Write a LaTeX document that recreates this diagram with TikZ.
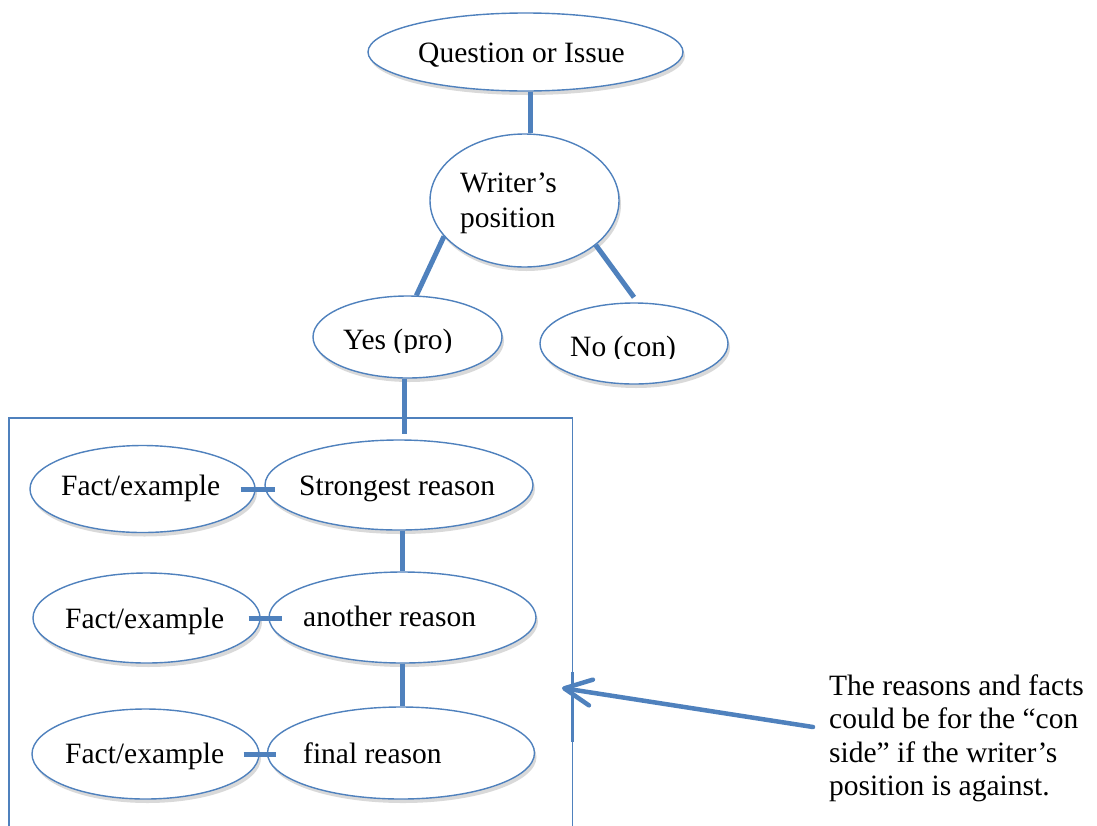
\documentclass[tikz,border=0pt]{standalone}
\usepackage{fontspec}
\setmainfont{Liberation Serif}
\usetikzlibrary{shapes.geometric,arrows.meta,shadows,calc}
\definecolor{accent}{RGB}{79,129,189}
\begin{document}
\begin{tikzpicture}[x=1pt,y=-1pt,
  oval/.style={ellipse, draw=accent, line width=1.4pt, fill=white, inner sep=0pt,
    drop shadow={shadow xshift=2pt, shadow yshift=-4pt, opacity=0.15, fill=black}},
  lbl/.style={inner sep=0pt, anchor=base west, font=\fontsize{29.5}{33}\selectfont},
  conn/.style={draw=accent, line width=5pt},
  frame/.style={draw=accent, line width=1.3pt},
  pointer/.style={draw=accent, line width=4.5pt, line cap=round,
    -{Straight Barb[length=27pt,width=26pt,round]}},
]
\clip (0,0) rectangle (1097,825);
\useasboundingbox (0,0) rectangle (1097,825);
\fill[white] (0,0) rectangle (1097,825);

% frame around the pro side
\draw[frame] (9,830) |- (572.5,418) -- (572.5,830);
\draw[accent, line width=3pt] (572.5,672) -- (572.5,742);

% ellipses
\node[oval, minimum width=315, minimum height=78] (q) at (525.5,52) {};
\node[oval, minimum width=189, minimum height=133] (w) at (524.5,200.5) {};
\node[oval, minimum width=189, minimum height=82] (y) at (407.5,337) {};
\node[oval, minimum width=188, minimum height=81] (n) at (634,343.5) {};
\node[oval, minimum width=268, minimum height=90] (s) at (399,485) {};
\node[oval, minimum width=225, minimum height=87] (f1) at (142.5,489) {};
\node[oval, minimum width=267, minimum height=91] (a) at (402.5,617.5) {};
\node[oval, minimum width=227, minimum height=90] (f2) at (146.5,618) {};
\node[oval, minimum width=267, minimum height=92] (r) at (401,753) {};
\node[oval, minimum width=227, minimum height=90] (f3) at (145.5,754) {};

% texts
\node[lbl] (tq) at (418,62) {Question or Issue};
\node[lbl] (tw1) at (460,192) {Writer’s};
\node[lbl] (tw2) at (460,227) {position};
\begin{scope}
  \clip (300,280) rectangle (520,352);
  \node[lbl] (ty) at (343,349) {Yes (pro)};
\end{scope}
\begin{scope}
  \clip (530,280) rectangle (740,358);
  \node[lbl] (tn) at (570,356) {No (con)};
\end{scope}
\node[lbl] (ts) at (299,495) {Strongest reason};
\node[lbl] (tf1) at (61,495) {Fact/example};
\node[lbl] (ta) at (303,626) {another reason};
\node[lbl] (tf2) at (65,628) {Fact/example};
\node[lbl] (tr) at (303,763) {final reason};
\node[lbl] (tf3) at (65,763) {Fact/example};

\node[lbl] (note1) at (829,695) {The reasons and facts};
\node[lbl] (note2) at (829,728) {could be for the “con};
\node[lbl] (note3) at (829,762) {side” if the writer’s};
\node[lbl] (note4) at (829,795) {position is against.};

% connectors
\draw[conn] ([xshift=5pt]q.south) -- ([xshift=6pt]w.north);
\draw[conn] (w.204) -- (y.78);
\draw[conn] (w.-32) -- ([yshift=5pt]n.north);
\draw[conn] ($(y.south)+(-3.5,0)$) -- ($(y.south |- s.north)+(-3.5,-5)$);
\draw[conn] (a.north |- s.south) -- (a.north);
\draw[conn] (a.south) -- (a.south |- r.north);
\draw[conn] ([xshift=-15pt]f1.east) -- ($(f1.east -| s.west)+(11,0)$);
\draw[conn] ([xshift=-12pt]f2.east) -- ($(f2.east -| a.west)+(14,0)$);
\draw[conn] ([xshift=-16pt]f3.east) -- ($(f3.east -| r.west)+(9,0)$);

% pointer arrow
\coordinate (tail) at (813,727);
\coordinate (tip) at (562,688);
\draw[pointer] (tail) -- (tip);
\end{tikzpicture}
\end{document}
